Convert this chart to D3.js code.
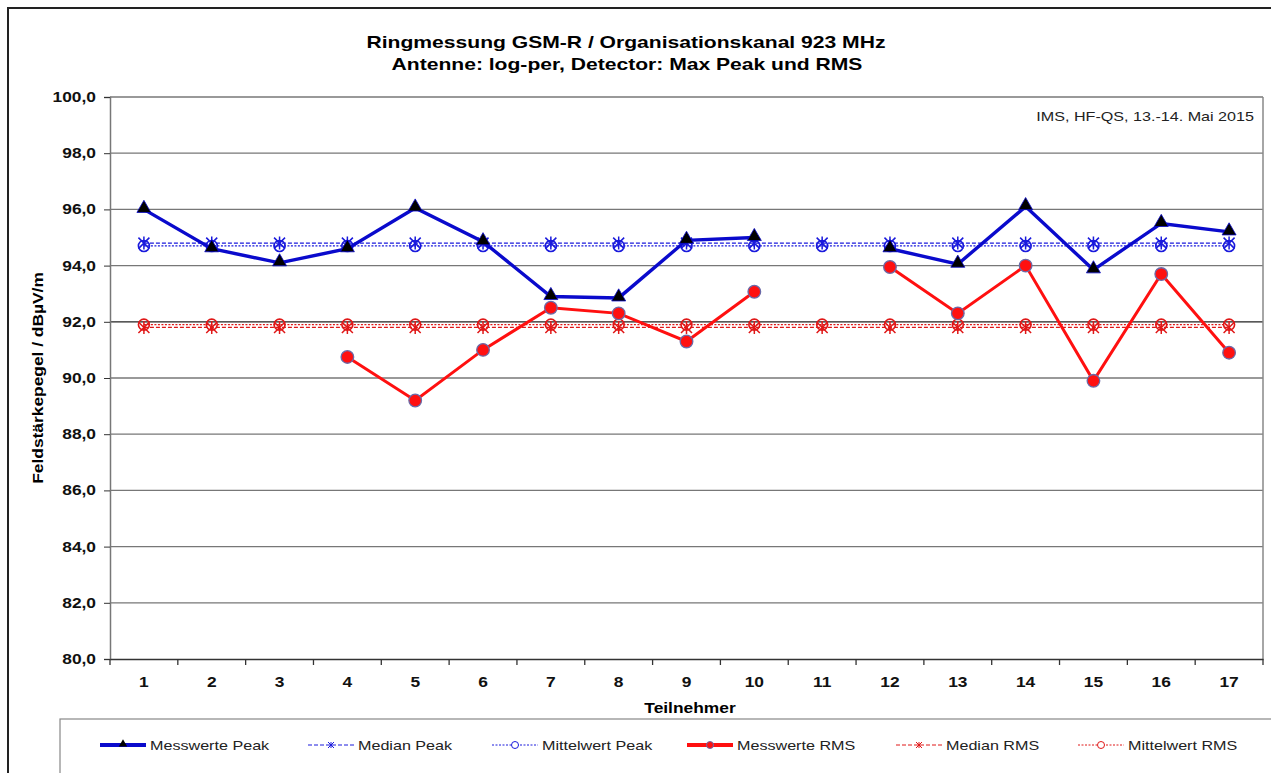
<!DOCTYPE html>
<html>
<head>
<meta charset="utf-8">
<script src="https://cdn.jsdelivr.net/npm/d3@7"></script>
<style>
body { margin: 0; background: #fff; }
text { font-family: "Liberation Sans", Arial, sans-serif; }
</style>
</head>
<body>
<div id="chart"></div>
<script>
// Teilnehmer 1..17
var teilnehmer = ["1","2","3","4","5","6","7","8","9","10","11","12","13","14","15","16","17"];
// Messwerte Peak (null = no value)
var peakWerte = [96.0, 94.6, 94.1, 94.6, 96.05, 94.85, 92.9, 92.85, 94.9, 95.0, null, 94.6, 94.05, 96.1, 93.85, 95.5, 95.2];
// Messwerte RMS
var rmsWerte = [null, null, null, 90.75, 89.2, 91.0, 92.5, 92.3, 91.3, 93.07, null, 93.95, 92.3, 94.0, 89.9, 93.7, 90.9];
var medianPeak = 94.8, mittelPeak = 94.7;
var medianRms = 91.8, mittelRms = 91.9;
var yTicks = [80,82,84,86,88,90,92,94,96,98,100];

var W = 1271, H = 773;

var svg = d3.select("#chart").append("svg")
  .attr("width", W).attr("height", H);

// outer frame
svg.append("path").attr("d", "M8,773 V8 H1271")
  .attr("fill", "none").attr("stroke", "#222").attr("stroke-width", 2);

var x = d3.scaleBand().domain(teilnehmer).range([110, 1263]);
var y = d3.scaleLinear().domain([80, 100]).range([659, 97]);
var cx = function(i) { return x(teilnehmer[i]) + x.bandwidth()/2; };

// title
svg.append("text").attr("x", 626).attr("y", 48).attr("text-anchor", "middle")
  .attr("font-size", 17).attr("font-weight", "bold")
  .text("Ringmessung GSM-R / Organisationskanal 923 MHz");
svg.append("text").attr("x", 627).attr("y", 70).attr("text-anchor", "middle")
  .attr("font-size", 17).attr("font-weight", "bold")
  .text("Antenne:  log-per, Detector: Max Peak und RMS");

// grid
svg.append("g").selectAll("line").data(yTicks.slice(1)).enter().append("line")
  .attr("x1", 110).attr("x2", 1263)
  .attr("y1", function(d){ return y(d); }).attr("y2", function(d){ return y(d); })
  .attr("stroke", function(d){ return d == 92 ? "#222" : "#777"; })
  .attr("stroke-width", 1.3);
// plot right border
svg.append("line").attr("x1", 1263).attr("x2", 1263).attr("y1", 97).attr("y2", 659)
  .attr("stroke", "#888").attr("stroke-width", 1.5);

// y axis
var yAxis = svg.append("g").attr("transform", "translate(110,0)")
  .call(d3.axisLeft(y).tickValues(yTicks).tickSize(6)
    .tickFormat(function(d){ return d3.format(".1f")(d).replace(".", ","); }));
yAxis.select(".domain").attr("stroke", "#777").attr("stroke-width", 1.5);
yAxis.selectAll("line").attr("stroke", "#333");
yAxis.selectAll("text").attr("font-size", 14).attr("font-weight", "bold")
  .attr("fill", "#111").attr("x", -14);

// x axis
var xAxis = svg.append("g").attr("transform", "translate(0,659)")
  .call(d3.axisBottom(x).tickSize(0).tickPadding(18));
xAxis.select(".domain").attr("stroke", "#333").attr("stroke-width", 1.5);
xAxis.selectAll("text").attr("font-size", 14).attr("font-weight", "bold").attr("fill", "#111");
xAxis.selectAll(".sep").data(d3.range(teilnehmer.length + 1)).enter().append("line")
  .attr("x1", function(i){ return 110 + i * x.bandwidth(); })
  .attr("x2", function(i){ return 110 + i * x.bandwidth(); })
  .attr("y1", 0).attr("y2", 6).attr("stroke", "#333").attr("stroke-width", 1.3);

// axis labels
svg.append("text").attr("x", 690).attr("y", 713).attr("text-anchor", "middle")
  .attr("font-size", 14).attr("font-weight", "bold").text("Teilnehmer");
svg.append("text").attr("transform", "translate(43,378) rotate(-90)")
  .attr("text-anchor", "middle").attr("font-size", 14).attr("font-weight", "bold")
  .text("Feldstärkepegel / dBµV/m");

// annotation
svg.append("text").attr("x", 1254).attr("y", 121).attr("text-anchor", "end")
  .attr("font-size", 13).attr("fill", "#222").text("IMS, HF-QS, 13.-14. Mai 2015");

// symbols
function star(g, px, py, col) {
  var s = 5.5;
  g.append("path").attr("d",
    "M" + (px-s) + "," + (py-s) + "L" + (px+s) + "," + (py+s) +
    "M" + (px+s) + "," + (py-s) + "L" + (px-s) + "," + (py+s) +
    "M" + px + "," + (py-s-1) + "L" + px + "," + (py+s+1))
    .attr("stroke", col).attr("stroke-width", 1.5).attr("fill", "none");
}
function ring(g, px, py, col) {
  g.append("circle").attr("cx", px).attr("cy", py).attr("r", 5.5)
    .attr("fill", "none").attr("stroke", col).attr("stroke-width", 1.6);
}

// constant lines (median / mean)
var consts = [
  {v: medianPeak, col: "#1a1adc", dash: "4,2", mark: star},
  {v: mittelPeak, col: "#1a1adc", dash: "2,1.5", mark: ring},
  {v: mittelRms, col: "#e01818", dash: "2,1.5", mark: ring},
  {v: medianRms, col: "#e01818", dash: "4,2", mark: star}
];
consts.forEach(function(c) {
  var g = svg.append("g");
  g.append("line").attr("x1", cx(0)).attr("x2", cx(teilnehmer.length-1))
    .attr("y1", y(c.v)).attr("y2", y(c.v))
    .attr("stroke", c.col).attr("stroke-width", 1.3).attr("stroke-dasharray", c.dash);
  teilnehmer.forEach(function(t, i){ c.mark(g, cx(i), y(c.v), c.col); });
});

var line = d3.line()
  .defined(function(d){ return d != null; })
  .x(function(d, i){ return cx(i); })
  .y(function(d){ return y(d); });

// Messwerte RMS
svg.append("path").datum(rmsWerte).attr("d", line)
  .attr("fill", "none").attr("stroke", "#ff1010").attr("stroke-width", 3);
rmsWerte.forEach(function(d, i) {
  if (d == null) return;
  svg.append("circle").attr("cx", cx(i)).attr("cy", y(d))
    .attr("r", 6.3).attr("fill", "#ff1010").attr("stroke", "#6a6aa8").attr("stroke-width", 1.3);
});

// Messwerte Peak
svg.append("path").datum(peakWerte).attr("d", line)
  .attr("fill", "none").attr("stroke", "#0a0acc").attr("stroke-width", 3.4);
var tri = d3.symbol().type(d3.symbolTriangle).size(85);
peakWerte.forEach(function(d, i) {
  if (d == null) return;
  svg.append("path").attr("d", tri)
    .attr("transform", "translate(" + cx(i) + "," + (y(d) - 1) + ")")
    .attr("fill", "#000").attr("stroke", "#0a0acc").attr("stroke-width", 0.8);
});

// legend
svg.append("rect").attr("x", 60).attr("y", 719).attr("width", 1230).attr("height", 70)
  .attr("fill", "#fff").attr("stroke", "#888").attr("stroke-width", 1.2);
var legend = [
  {name: "Messwerte Peak", lx: 100, col: "#0a0acc", w: 4, dash: null, mark: "tri"},
  {name: "Median Peak", lx: 308, col: "#1a1adc", w: 1, dash: "4,2", mark: "star"},
  {name: "Mittelwert Peak", lx: 492, col: "#1a1adc", w: 1, dash: "2,1.5", mark: "ring"},
  {name: "Messwerte RMS", lx: 687, col: "#ff1010", w: 4, dash: null, mark: "dot"},
  {name: "Median RMS", lx: 896, col: "#e01818", w: 1, dash: "4,2", mark: "star"},
  {name: "Mittelwert RMS", lx: 1078, col: "#e01818", w: 1, dash: "2,1.5", mark: "ring"}
];
legend.forEach(function(l) {
  var g = svg.append("g");
  var ly = 745, mx = l.lx + 23;
  g.append("line").attr("x1", l.lx).attr("x2", l.lx + 46).attr("y1", ly).attr("y2", ly)
    .attr("stroke", l.col).attr("stroke-width", l.w).attr("stroke-dasharray", l.dash);
  if (l.mark == "tri") {
    g.append("path").attr("d", d3.symbol().type(d3.symbolTriangle).size(30))
      .attr("transform", "translate(" + mx + "," + (ly - 1) + ")").attr("fill", "#000");
  } else if (l.mark == "dot") {
    g.append("circle").attr("cx", mx).attr("cy", ly).attr("r", 3.5)
      .attr("fill", "#ff1010").attr("stroke", "#6a6aa8");
  } else if (l.mark == "star") {
    var s = 3;
    g.append("path").attr("d", "M" + (mx-s) + "," + (ly-s) + "L" + (mx+s) + "," + (ly+s) +
      "M" + (mx+s) + "," + (ly-s) + "L" + (mx-s) + "," + (ly+s) +
      "M" + mx + "," + (ly-s) + "L" + mx + "," + (ly+s))
      .attr("stroke", l.col).attr("stroke-width", 1);
  } else {
    g.append("circle").attr("cx", mx).attr("cy", ly).attr("r", 3.5)
      .attr("fill", "#fff").attr("stroke", l.col).attr("stroke-width", 1);
  }
  g.append("text").attr("x", l.lx + 50).attr("y", ly + 5)
    .attr("font-size", 13).attr("fill", "#222").text(l.name);
});

// the reference lettering is set noticeably wider than Liberation Sans
svg.selectAll("text").each(function() {
  var len = this.getComputedTextLength();
  d3.select(this).attr("textLength", len * 1.24).attr("lengthAdjust", "spacingAndGlyphs");
});
</script>
</body>
</html>
